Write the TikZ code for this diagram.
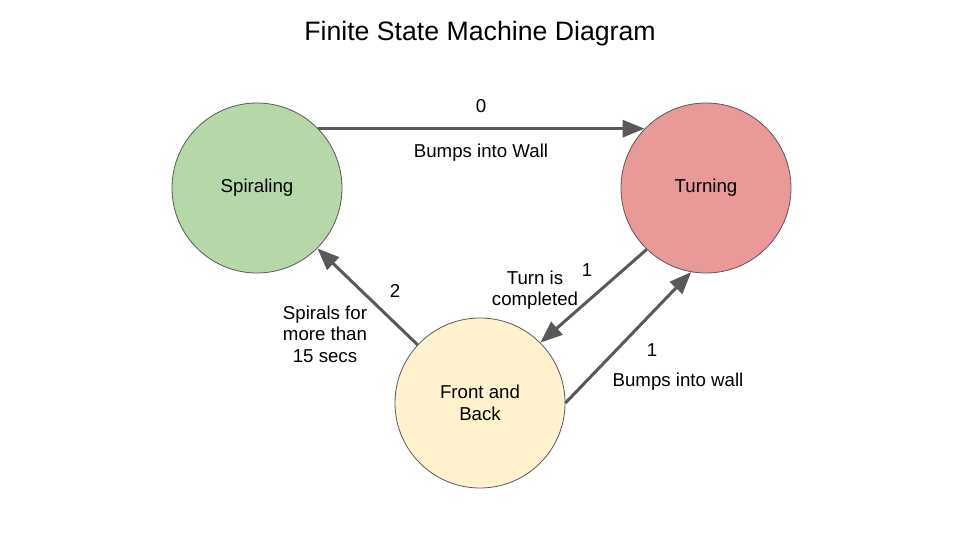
\documentclass[tikz,border=0pt]{standalone}
\usepackage{fontspec}
\setmainfont{Liberation Sans}
\usetikzlibrary{arrows.meta}

\definecolor{spiralgreen}{HTML}{B6D7A8}
\definecolor{turnred}{HTML}{EA9999}
\definecolor{frontyellow}{HTML}{FFF2CC}
\definecolor{edgegray}{HTML}{595959}

\def\bodysize{\fontsize{18.67}{21.5}\selectfont}

\begin{document}
\begin{tikzpicture}[x=1pt, y=-1pt,
    state/.style={circle, draw=edgegray, line width=0.8pt, minimum size=170pt,
                  inner sep=0pt, align=center, font=\bodysize},
    trans/.style={draw=edgegray, line width=3pt, -{Triangle[length=22pt,width=17pt]}},
    lbl/.style={anchor=center, align=center, font=\bodysize}]
      \useasboundingbox (0,0) rectangle (960,540);
      \fill[white] (0,0) rectangle (960,540);

      % title
      \node[anchor=center, font=\fontsize{26.67}{30}\selectfont] (title) at (480,34) {Finite State Machine Diagram};

      % states
      \node[state, fill=spiralgreen] (spiral) at (257,188) {Spiraling};
      \node[state, fill=turnred] (turn) at (706,188) {Turning};
      \node[state, fill=frontyellow] (front) at (480,403) {Front and\\Back};

      % transitions
      \draw[trans] (spiral.44) -- (turn.136);
      \draw[trans] (front.137) -- (spiral.-45);
      \draw[trans] (turn.-134) -- (front.45);
      \draw[trans] (front.0) -- (turn.-100);

      % labels
      \node[lbl] (zero) at (481,106) {0};
      \node[lbl] (bumpwall) at (481,153) {Bumps into Wall};
      \node[lbl] (two) at (395,291) {2};
      \node[lbl] (spiralsfor) at (325,334) {Spirals for\\more than\\15 secs};
      \node[lbl] (oneturn) at (587,270) {1};
      \node[lbl] (turndone) at (535,290) {Turn is\\completed};
      \node[lbl] (onebump) at (652,350) {1};
      \node[lbl] (bumpinto) at (678,382) {Bumps into wall};
    \end{tikzpicture}
\end{document}
